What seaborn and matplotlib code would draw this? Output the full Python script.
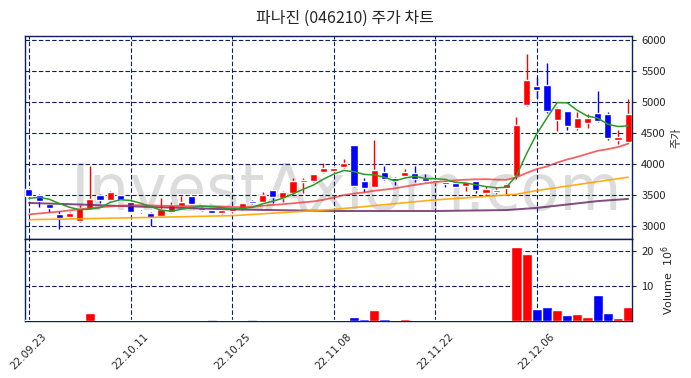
import numpy as np
import pandas as pd
import matplotlib
matplotlib.use('Agg')
import matplotlib.pyplot as plt
import seaborn as sns

# 파나진 daily candles, 22.09.23 - 22.12.19 (trading-day index on x)
tick_labels = ['22.09.23', '22.10.11', '22.10.25', '22.11.08', '22.11.22', '22.12.06']
tick_pos = [0, 10, 20, 30, 40, 50]

open_ = [3590, 3500, 3360, 3190, 3150, 3075, 3280, 3500, 3420, 3495,
         3390, 3235, 3205, 3160, 3225, 3320, 3475, 3280, 3250, 3215,
         3240, 3270, 3385, 3385, 3575, 3445, 3525, 3710, 3725, 3875,
         3880, 3950, 4300, 3720, 3630, 3875, 3780, 3805, 3850, 3775,
         3705, 3710, 3690, 3645, 3720, 3530, 3550, 3605, 3800, 4950,
         5250, 5280, 4710, 4850, 4585, 4655, 4815, 4800, 4385, 4355]
close = [3485, 3400, 3290, 3120, 3205, 3290, 3440, 3420, 3540, 3420,
         3230, 3220, 3135, 3270, 3330, 3385, 3360, 3260, 3215, 3250,
         3300, 3365, 3370, 3495, 3460, 3540, 3720, 3740, 3830, 3940,
         3940, 4020, 3645, 3610, 3895, 3755, 3725, 3870, 3755, 3720,
         3735, 3670, 3630, 3700, 3580, 3590, 3575, 3670, 4635, 5360,
         5190, 4855, 4905, 4615, 4745, 4735, 4695, 4410, 4430, 4800]
high = [3600, 3510, 3370, 3240, 3230, 3340, 3970, 3510, 3565, 3505,
        3400, 3260, 3220, 3450, 3390, 3480, 3480, 3310, 3260, 3280,
        3310, 3375, 3410, 3550, 3580, 3560, 3765, 3770, 3840, 4020,
        3945, 4085, 4310, 3775, 4385, 3960, 3790, 3925, 3960, 3830,
        3760, 3720, 3700, 3705, 3730, 3645, 3630, 3690, 4760, 5780,
        5410, 5620, 4910, 4855, 4830, 4800, 5180, 4830, 4550, 5050]
low = [3480, 3310, 3220, 2945, 3140, 3060, 3270, 3365, 3400, 3410,
       3220, 3200, 2990, 3150, 3215, 3310, 3350, 3240, 3205, 3195,
       3210, 3255, 3350, 3370, 3375, 3380, 3510, 3530, 3710, 3860,
       3870, 3940, 3630, 3550, 3620, 3740, 3660, 3795, 3700, 3710,
       3680, 3635, 3620, 3565, 3530, 3520, 3520, 3510, 3760, 4940,
       5070, 4815, 4530, 4550, 4550, 4585, 4680, 4380, 4315, 4340]
# volume in millions of shares
volume = [0.3, 0.25, 0.2, 0.25, 0.15, 0.2, 2.3, 0.2, 0.25, 0.2,
          0.25, 0.15, 0.15, 0.2, 0.2, 0.2, 0.2, 0.15, 0.05, 0.15,
          0.15, 0.2, 0.1, 0.2, 0.15, 0.2, 0.2, 0.15, 0.2, 0.2,
          0.25, 0.3, 1.15, 0.55, 3.1, 0.55, 0.3, 0.55, 0.2, 0.2,
          0.2, 0.2, 0.15, 0.2, 0.15, 0.2, 0.25, 0.3, 21.1, 19.1,
          3.4, 4.0, 3.1, 1.7, 2.0, 1.1, 7.4, 2.3, 0.85, 4.0]

ma5_head = [3445, 3460, 3430, 3360]
ma20_head = [3185, 3200, 3215, 3230, 3250, 3268, 3285, 3300, 3315, 3325,
             3333, 3335, 3330, 3325, 3322, 3320, 3318, 3315, 3314]
ma60_idx = [0, 10, 20, 30, 40, 45, 48, 50, 55, 59]
ma60_val = [3100, 3130, 3165, 3265, 3420, 3475, 3510, 3570, 3690, 3785]
ma120_idx = [0, 5, 10, 15, 20, 30, 40, 47, 50, 53, 56, 59]
ma120_val = [3370, 3345, 3315, 3290, 3265, 3240, 3240, 3255, 3290, 3345, 3400, 3435]

UP = '#ff0000'
DOWN = '#0000ff'
NAVY = '#0a1f5c'

df = pd.DataFrame({'open': open_, 'close': close, 'high': high, 'low': low, 'volume': volume})
df['idx'] = np.arange(len(df))
df['up'] = df['close'] >= df['open']
c5 = df['close'].rolling(5).mean()
c5.iloc[:4] = ma5_head
c20 = df['close'].rolling(20).mean()
c20.iloc[:19] = ma20_head
df['ma5'] = c5
df['ma20'] = c20

sns.set_style('white')
plt.rcParams['font.family'] = ['Noto Sans CJK KR', 'DejaVu Sans']

fig = plt.figure(figsize=(6.91, 3.78), dpi=100)
ax = fig.add_axes([0.036, 0.368, 0.879, 0.537])
axv = fig.add_axes([0.036, 0.151, 0.879, 0.217], sharex=ax)

# watermark
ax.text(0.53, 0.23, 'InvestAxiom.com', transform=ax.transAxes, fontsize=46,
        color='#dcdcdc', ha='center', va='center', zorder=0,
        family='DejaVu Sans')

colors = [UP if u else DOWN for u in df['up']]
body_lo = np.minimum(df['open'], df['close'])
body_h = np.maximum(np.abs(df['close'] - df['open']), 25)
ax.vlines(df['idx'], df['low'], df['high'], colors=colors, linewidth=1.0, zorder=2)
ax.bar(df['idx'], body_h, bottom=body_lo, width=0.7, color=colors, zorder=3)

sns.lineplot(x=ma120_idx, y=ma120_val, ax=ax, color='#6b2d6b', linewidth=1.4, alpha=0.85, zorder=4)
sns.lineplot(x=ma60_idx, y=ma60_val, ax=ax, color='#ffa500', linewidth=1.2, alpha=0.9, zorder=4)
sns.lineplot(data=df, x='idx', y='ma20', ax=ax, color='#f03030', linewidth=1.3, alpha=0.75, zorder=4)
sns.lineplot(data=df, x='idx', y='ma5', ax=ax, color='#2a9a2a', linewidth=1.1, zorder=5)

ax.set_xlim(-0.4, 59.4)
ax.set_ylim(2790, 6065)
ax.set_yticks([3000, 3500, 4000, 4500, 5000, 5500, 6000])
ax.yaxis.tick_right()
ax.yaxis.set_label_position('right')
ax.set_ylabel('주가', fontsize=8)
ax.set_xlabel('')
ax.tick_params(axis='y', labelsize=8, length=3, color=NAVY)
ax.tick_params(axis='x', labelbottom=False, length=0)
ax.grid(True, color=NAVY, linestyle=(0, (4, 2)), linewidth=0.8)
for s in ax.spines.values():
    s.set_color(NAVY)
    s.set_linewidth(1.0)

axv.bar(df['idx'], df['volume'], width=1.0, color=colors, zorder=3)
axv.set_ylim(0, 23.4)
axv.set_yticks([10, 20])
axv.yaxis.tick_right()
axv.yaxis.set_label_position('right')
axv.set_ylabel('Volume  $10^6$', fontsize=8, family='DejaVu Sans')
axv.set_xticks(tick_pos)
axv.set_xticklabels(tick_labels, rotation=45, fontsize=7.5, family='DejaVu Sans')
axv.tick_params(axis='y', labelsize=8, length=3, color=NAVY)
axv.tick_params(axis='x', length=4, color='black')
axv.grid(True, color=NAVY, linestyle=(0, (4, 2)), linewidth=0.8)
for s in axv.spines.values():
    s.set_color(NAVY)
    s.set_linewidth(1.0)

fig.suptitle('파나진 (046210) 주가 차트', fontsize=11.5, y=0.975)
fig.savefig('out.png', dpi=100)
